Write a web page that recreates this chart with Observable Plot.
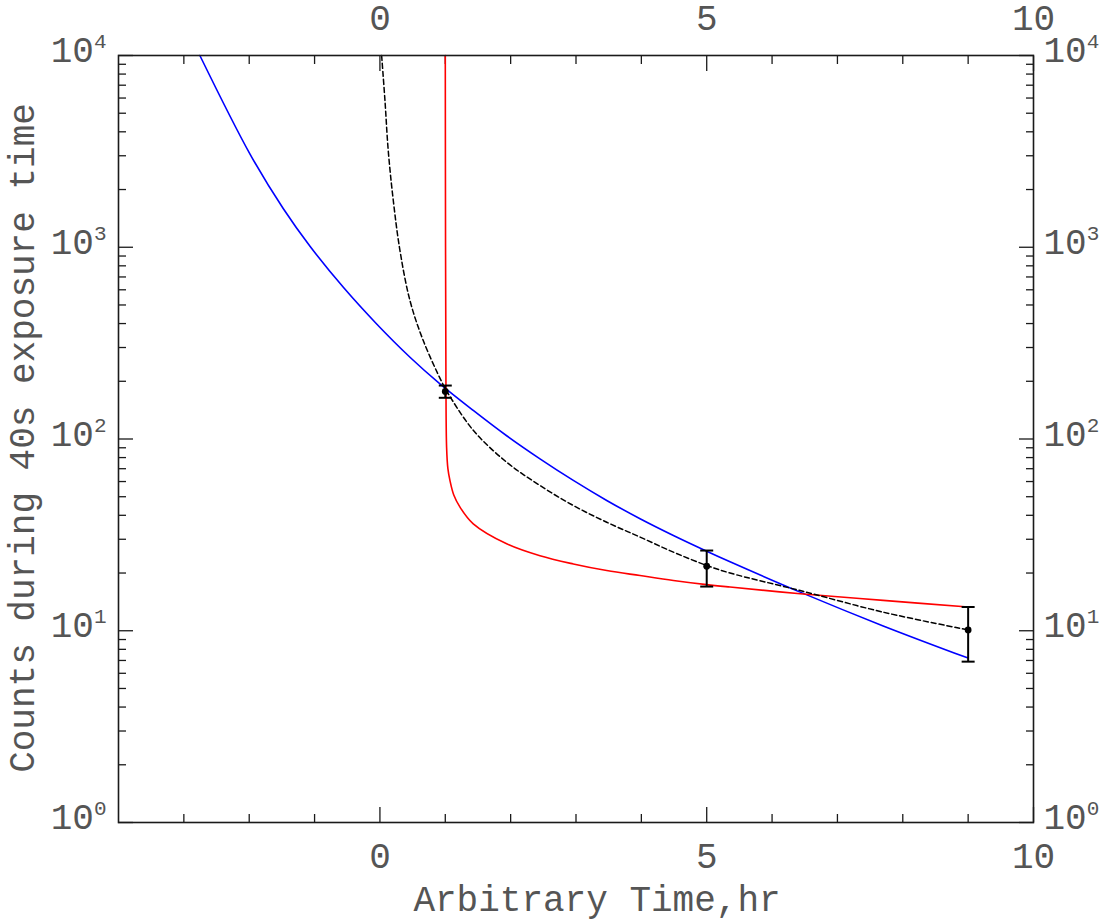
<!DOCTYPE html>
<html><head><meta charset="utf-8">
<script src="https://cdn.jsdelivr.net/npm/d3@7"></script>
<script src="https://cdn.jsdelivr.net/npm/@observablehq/plot@0.6"></script>
<style>
body{margin:0;background:#fff;}
</style></head><body><div id="chart"></div>
<script>
// ---- data ----
const blueX = [-2.755, -1.99, -1.48, -1.07, -0.56, -0.05, 0.46, 0.918, 1.428, 1.939, 2.449, 2.959, 3.47, 3.98, 4.49, 5.0, 5.357, 6.43, 7.70, 9.0];
const blueY = [10000, 3070, 1592, 1012, 618, 398, 267, 194, 141, 104, 78.8, 60.8, 47.8, 38.4, 31.4, 26.0, 22.9, 15.9, 10.6, 7.2];

const dashX = [0.026, 0.077, 0.127, 0.204, 0.306, 0.459, 0.663, 0.944, 1.02, 1.428, 1.939, 2.449, 2.959, 3.47, 3.98, 4.49, 5.0, 5.357, 6.43, 7.70, 9.0];
const dashY = [10000, 5825, 3199, 1758, 964, 528, 326, 199, 178, 111, 75.7, 57.2, 45.0, 36.8, 30.8, 25.7, 21.9, 20.0, 16.2, 12.5, 10.1];

const redX = [1.000, 1.004, 1.010, 1.02, 1.04, 1.071, 1.13, 1.225, 1.428, 1.939, 2.449, 2.959, 3.47, 3.98, 4.49, 5.0, 5.357, 6.43, 7.70, 9.0];
const redY = [10000, 1000, 200, 90.6, 70, 60.8, 51, 44.1, 36.1, 28.4, 24.6, 22.3, 20.6, 19.4, 18.3, 17.4, 16.9, 15.6, 14.4, 13.3];

const errX  = [1, 5, 9];
const errY  = [177, 21.7, 10.1];
const errLo = [164, 17.0, 6.9];
const errHi = [190, 26.2, 13.3];

const xMajor = [0, 5, 10];
const xMinor = [-3, -2, -1, 1, 2, 3, 4, 6, 7, 8, 9];
const yMajor = [1, 10, 100, 1000, 10000];
const yMajorExp = ["0", "1", "2", "3", "4"];
const yMinor = [2,3,4,5,6,7,8,9, 20,30,40,50,60,70,80,90, 200,300,400,500,600,700,800,900, 2000,3000,4000,5000,6000,7000,8000,9000];

const xTitle = "Arbitrary Time,hr";
const yTitle = "Counts during 40s exposure time";

// ---- tables ----
const toRows = (xs, ys) => xs.map((x, i) => ({x, y: ys[i]}));
const blue = toRows(blueX, blueY);
const dash = toRows(dashX, dashY);
const red = toRows(redX, redY);
const err = errX.map((x, i) => ({x, y: errY[i], lo: errLo[i], hi: errHi[i]}));
const yLab = yMajor.map((v, i) => ({v, t: "10^" + yMajorExp[i]}));

const capSymbol = {draw(ctx) { ctx.moveTo(-6.5, 0); ctx.lineTo(6.5, 0); }};

const txt = "#555";
const ax = "#1a1a1a";
const noText = () => "";

const chart = Plot.plot({
  width: 1107, height: 923,
  marginLeft: 118, marginRight: 74, marginTop: 55, marginBottom: 101,
  x: {type: "linear", domain: [-4, 10], axis: null},
  y: {type: "log", domain: [1, 10000], axis: null},
  style: {fontFamily: "'Liberation Mono', monospace", fontSize: "36px", background: "#fff", color: txt},
  marks: [
    // ticks (inward)
    Plot.axisX(xMinor, {anchor: "bottom", tickSize: -8, tickFormat: noText, stroke: ax, strokeWidth: 1.3, label: null}),
    Plot.axisX(xMajor, {anchor: "bottom", tickSize: -15, tickFormat: noText, stroke: ax, strokeWidth: 1.3, label: null}),
    Plot.axisX(xMinor, {anchor: "top", tickSize: -8, tickFormat: noText, stroke: ax, strokeWidth: 1.3, label: null}),
    Plot.axisX(xMajor, {anchor: "top", tickSize: -15, tickFormat: noText, stroke: ax, strokeWidth: 1.3, label: null}),
    Plot.axisY(yMinor, {anchor: "left", tickSize: -8, tickFormat: noText, stroke: ax, strokeWidth: 1.3, label: null}),
    Plot.axisY(yMajor, {anchor: "left", tickSize: -15, tickFormat: noText, stroke: ax, strokeWidth: 1.3, label: null}),
    Plot.axisY(yMinor, {anchor: "right", tickSize: -8, tickFormat: noText, stroke: ax, strokeWidth: 1.3, label: null}),
    Plot.axisY(yMajor, {anchor: "right", tickSize: -15, tickFormat: noText, stroke: ax, strokeWidth: 1.3, label: null}),
    // tick labels
    Plot.text(xMajor, {x: d => d, frameAnchor: "bottom", lineAnchor: "middle", dy: 33.5, text: d => String(d), fill: txt}),
    Plot.text(xMajor, {x: d => d, frameAnchor: "top", lineAnchor: "middle", dy: -37.5, text: d => String(d), fill: txt}),
    Plot.text(yLab, {y: "v", frameAnchor: "left", textAnchor: "end", lineAnchor: "middle", dx: -12, dy: -5, text: "t", fill: txt}),
    Plot.text(yLab, {y: "v", frameAnchor: "right", textAnchor: "start", lineAnchor: "middle", dx: 10, dy: -5, text: "t", fill: txt}),
    // titles
    Plot.text([xTitle], {frameAnchor: "bottom", textAnchor: "middle", lineAnchor: "middle", dx: 21, dy: 76.5, text: d => d, fill: txt}),
    Plot.text([yTitle], {frameAnchor: "left", textAnchor: "middle", lineAnchor: "middle", rotate: -90, dx: -96, dy: -1, text: d => d, fill: txt}),
    // curves
    Plot.line(blue, {x: "x", y: "y", stroke: "#0000ff", strokeWidth: 1.6, curve: "catmull-rom"}),
    Plot.line(red, {x: "x", y: "y", stroke: "#ff0000", strokeWidth: 1.6, curve: "catmull-rom"}),
    Plot.line(dash, {x: "x", y: "y", stroke: "#000", strokeWidth: 1.5, strokeDasharray: "5,3", curve: "catmull-rom"}),
    // error bars
    Plot.ruleX(err, {x: "x", y1: "lo", y2: "hi", stroke: "#000", strokeWidth: 2}),
    Plot.dot(err, {x: "x", y: "hi", symbol: capSymbol, r: 3, stroke: "#000", strokeWidth: 2}),
    Plot.dot(err, {x: "x", y: "lo", symbol: capSymbol, r: 3, stroke: "#000", strokeWidth: 2}),
    Plot.dot(err, {x: "x", y: "y", r: 3.4, fill: "#000", stroke: "none"}),
    Plot.frame({stroke: ax, strokeWidth: 1.6})
  ]
});

// superscript exponents on the log-axis labels
d3.select(chart).selectAll("text").each(function() {
  const m = /^10\^(\d)$/.exec(this.textContent);
  if (!m) return;
  const t = d3.select(this);
  t.text("10");
  t.append("tspan").attr("dy", "-14").attr("font-size", "21px").text(m[1]);
});

document.getElementById("chart").appendChild(chart);
</script>
</body></html>
